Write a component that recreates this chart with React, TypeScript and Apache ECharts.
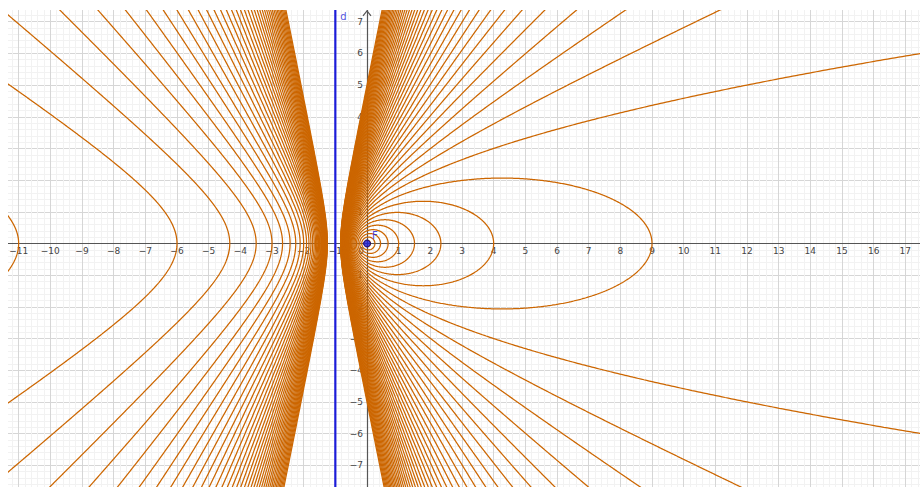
import React, { useEffect, useRef } from "react";
import * as echarts from "echarts";

// Eccentricities of the family of conics (focus F, directrix d)
const eccentricities = [
  0.1, 0.2, 0.3, 0.4, 0.5, 0.6, 0.7, 0.8, 0.9, 1.0,
  1.1, 1.2, 1.3, 1.4, 1.5, 1.6, 1.7, 1.8, 1.9, 2.0,
  2.1, 2.2, 2.3, 2.4, 2.5, 2.6, 2.7, 2.8, 2.9, 3.0,
  3.1, 3.2, 3.3, 3.4, 3.5, 3.6, 3.7, 3.8, 3.9, 4.0,
  4.1, 4.2, 4.3, 4.4, 4.5, 4.6, 4.7, 4.8, 4.9, 5.0,
];
const focusPoint = [0, 0];
const directrixX = -1;

// Axis extents (tick range), labelled ticks and visible window
const xTickRange = [-12, 18];
const yTickRange = [-8, 8];
const xLabelRange = [-11, 17];
const yLabelRange = [-7, 7];
const visibleTopY = 7.34;

const VIEW_W = 912;
const VIEW_H = 477;
const UNIT = 31.67; // px per unit
const ORIGIN_X = 358.6; // origin in visible-box coords
const ORIGIN_Y = 233.3;

const CONIC_COLOR = "#cc6600";
const BLUE = "#1c1cd8";

function conicBranches(e: number): number[][][] {
  const fx = focusPoint[0];
  const fy = focusPoint[1];
  const p = fx - directrixX;
  const branches: number[][][] = [];
  const ys: number[] = [];
  for (let y = yTickRange[0]; y <= yTickRange[1] + 1e-9; y += 0.02) ys.push(y);
  if (e < 1) {
    const a = (e * p) / (1 - e * e);
    const b = (e * p) / Math.sqrt(1 - e * e);
    const cx = fx + a * e;
    const pts: number[][] = [];
    const n = 720;
    for (let i = 0; i <= n; i++) {
      const t = (i / n) * Math.PI * 2;
      pts.push([cx + a * Math.cos(t), fy + b * Math.sin(t)]);
    }
    branches.push(pts);
  } else if (Math.abs(e - 1) < 1e-9) {
    branches.push(ys.map((y) => [fx + (y * y - p * p) / (2 * p), fy + y]));
  } else {
    const a = (e * p) / (e * e - 1);
    const b = (e * p) / Math.sqrt(e * e - 1);
    const cx = fx - a * e;
    branches.push(ys.map((y) => [cx + a * Math.sqrt(1 + (y * y) / (b * b)), fy + y]));
    branches.push(ys.map((y) => [cx - a * Math.sqrt(1 + (y * y) / (b * b)), fy + y]));
  }
  return branches;
}

const fmt = (v: number) => String(v).replace("-", "\u2212");

export default function App() {
  const ref = useRef<HTMLDivElement>(null);
  const innerLeft = ORIGIN_X + xTickRange[0] * UNIT;
  const innerTop = ORIGIN_Y - yTickRange[1] * UNIT;
  const innerW = (xTickRange[1] - xTickRange[0]) * UNIT;
  const innerH = (yTickRange[1] - yTickRange[0]) * UNIT;

  useEffect(() => {
    if (!ref.current) return;
    const chart = echarts.init(ref.current, null, { renderer: "svg" });

    const series: any[] = [];
    eccentricities.forEach((e) => {
      conicBranches(e).forEach((pts, k) => {
        series.push({
          type: "line",
          name: `e=${e}-${k}`,
          data: pts,
          showSymbol: false,
          symbol: "none",
          silent: true,
          clip: true,
          z: 2,
          lineStyle: { color: CONIC_COLOR, width: 1.25 },
        });
      });
    });
    series.push({
      type: "line",
      name: "d",
      data: [
        [directrixX, yTickRange[0]],
        [directrixX, yTickRange[1]],
      ],
      showSymbol: false,
      symbol: "none",
      silent: true,
      z: 3,
      lineStyle: { color: BLUE, width: 2.2 },
    });
    series.push({
      type: "scatter",
      name: "dlabel",
      data: [[directrixX, visibleTopY]],
      symbolSize: 0,
      silent: true,
      z: 4,
      label: {
        show: true,
        formatter: "d",
        position: "right",
        offset: [0, 6],
        color: BLUE,
        fontSize: 10,
        fontFamily: "DejaVu Sans",
      },
    });
    series.push({
      type: "scatter",
      name: "F",
      data: [focusPoint],
      symbolSize: 7,
      silent: true,
      z: 5,
      itemStyle: { color: BLUE, borderColor: "#00007a", borderWidth: 1 },
      label: {
        show: true,
        formatter: "F",
        position: "right",
        offset: [-4, -8],
        color: BLUE,
        fontSize: 10,
        fontFamily: "DejaVu Sans",
      },
    });

    const axisCommon = {
      type: "value",
      interval: 1,
      axisLine: { onZero: false, lineStyle: { color: "#555555", width: 1.2 } },
      axisTick: { show: false },
      minorTick: { show: false, splitNumber: 5 },
      splitLine: { show: true, lineStyle: { color: "#d6d6d6", width: 1 } },
      minorSplitLine: { show: true, lineStyle: { color: "#f2f2f2", width: 1 } },
    };

    chart.setOption({
      animation: false,
      backgroundColor: "#ffffff",
      grid: {
        left: 0,
        right: 0,
        top: 0,
        bottom: 0,
        containLabel: false,
        outerBoundsMode: "none",
      },
      xAxis: {
        ...axisCommon,
        position: "bottom",
        offset: -(-yTickRange[0] * UNIT),
        min: xTickRange[0],
        max: xTickRange[1],
        axisLabel: {
          margin: 3,
          color: "#444444",
          fontSize: 9,
          fontFamily: "DejaVu Sans",
          hideOverlap: false,
          formatter: (v: number) =>
            v < xLabelRange[0] || v > xLabelRange[1] ? "" : v === 0 ? "{o|0}" : fmt(v),
          rich: { o: { padding: [0, 12, 0, 0], fontSize: 9, color: "#444444", fontFamily: "DejaVu Sans" } },
        },
      },
      yAxis: {
        ...axisCommon,
        position: "left",
        offset: -(-xTickRange[0] * UNIT),
        min: yTickRange[0],
        max: yTickRange[1],
        axisLabel: {
          margin: 4,
          color: "#444444",
          fontSize: 9,
          fontFamily: "DejaVu Sans",
          hideOverlap: false,
          formatter: (v: number) =>
            v === 0 || v < yLabelRange[0] || v > yLabelRange[1] ? "" : fmt(v),
        },
      },
      series,
    });

    const apex = chart.convertToPixel({ gridIndex: 0 } as any, [0, visibleTopY]) as number[];
    chart.setOption({
      graphic: [
        {
          type: "polyline",
          z: 10,
          shape: {
            points: [
              [apex[0] - 4, apex[1] + 5],
              [apex[0], apex[1]],
              [apex[0] + 4, apex[1] + 5],
            ],
          },
          style: { stroke: "#555555", lineWidth: 1.2, fill: "none" },
        },
      ],
    });

    return () => chart.dispose();
  }, []);
  return (
    <div
      style={{
        position: "fixed",
        left: 8,
        top: 10,
        width: VIEW_W,
        height: VIEW_H,
        overflow: "hidden",
        background: "#ffffff",
      }}
    >
      <div
        ref={ref}
        style={{ position: "absolute", left: innerLeft, top: innerTop, width: innerW, height: innerH }}
      />
    </div>
  );
}
